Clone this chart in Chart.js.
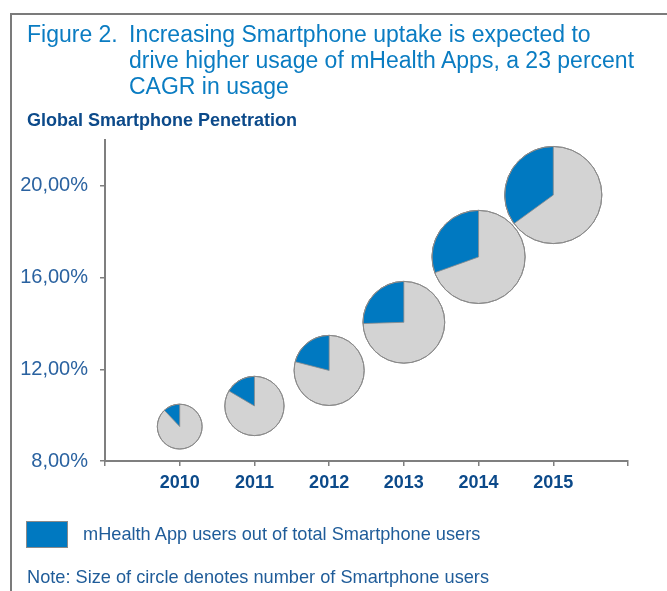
<!DOCTYPE html>
<html>
<head>
<meta charset="utf-8">
<script src="https://cdn.jsdelivr.net/npm/chart.js@4"></script>
<style>
  html, body { margin: 0; padding: 0; background: #fff; }
  body { width: 667px; height: 591px; position: relative; overflow: hidden;
         font-family: "Liberation Sans", Arial, sans-serif; }
  #frame { position: absolute; left: 10px; top: 13px; right: -10px; bottom: -10px;
           border-left: 2.5px solid #7b7b7b; border-top: 2.5px solid #7b7b7b; }
  #title { position: absolute; left: 27px; top: 21px; color: #0a7cc2; font-size: 23px;
           line-height: 26px; display: flex; }
  #title .fig { width: 102px; flex: none; }
  #subtitle { position: absolute; left: 27px; top: 109px; color: #0c4a8a; font-size: 18px;
              font-weight: bold; line-height: 22px; }
  #chartBox { position: absolute; left: 0; top: 0; width: 667px; height: 591px; }
  #legend { position: absolute; left: 26px; top: 521px; display: flex; align-items: center; }
  #legend .box { width: 40px; height: 25px; background: #0079c1; border: 1px solid #8a8a8a; }
  #legend .txt { margin-left: 15px; color: #1f5c99; font-size: 18.2px; }
  #note { position: absolute; left: 27px; top: 566px; color: #1f5c99; font-size: 18.2px; line-height: 22px; }
</style>
</head>
<body>
<div id="frame"></div>
<div id="chartBox"><canvas id="c" width="667" height="591"></canvas></div>
<div id="title"><div class="fig">Figure 2.</div><div>Increasing Smartphone uptake is expected to<br>drive higher usage of mHealth Apps, a 23 percent<br>CAGR in usage</div></div>
<div id="subtitle">Global Smartphone Penetration</div>
<div id="legend"><div class="box"></div><div class="txt">mHealth App users out of total Smartphone users</div></div>
<div id="note">Note: Size of circle denotes number of Smartphone users</div>
<script>
// ---- data ----
const years = [2010, 2011, 2012, 2013, 2014, 2015];
// Global smartphone penetration (%), bubble centre height
const penetration = [9.5, 10.4, 11.95, 14.05, 16.9, 19.6];
// Share of mHealth app users out of smartphone users (%), blue wedge
const mhealthShare = [12, 16.5, 21, 25.5, 30.5, 35];
// Relative number of smartphone users (2010 = 1), circle area
const smartphoneUsers = [1.0, 1.75, 2.45, 3.33, 4.32, 4.7];
// Axis tick labels
const yTicks = [8, 12, 16, 20];
const xTickLabels = ['2010', '2011', '2012', '2013', '2014', '2015'];

const BLUE = '#0079c1';
const GREY_FILL = '#d3d3d3';
const GREY_LINE = '#8a8a8a';
const AXIS = '#7f7f7f';
const RADIUS_SCALE = 22.4; // px radius for a relative user count of 1

const points = years.map((y, i) => ({ x: y, y: penetration[i], r: RADIUS_SCALE * Math.sqrt(smartphoneUsers[i]) }));

const wedgePlugin = {
  id: 'wedges',
  afterDatasetsDraw(chart) {
    const ctx = chart.ctx;
    const meta = chart.getDatasetMeta(0);
    meta.data.forEach((el, i) => {
      const p = el.getProps(['x', 'y'], true);
      const r = el.options.radius;
      const share = mhealthShare[i] / 100;
      const end = -Math.PI / 2;
      const start = end - share * 2 * Math.PI;
      ctx.save();
      ctx.beginPath();
      ctx.moveTo(p.x, p.y);
      ctx.arc(p.x, p.y, r, start, end);
      ctx.closePath();
      ctx.fillStyle = BLUE;
      ctx.fill();
      ctx.lineWidth = 0.8;
      ctx.strokeStyle = GREY_LINE;
      ctx.stroke();
      ctx.beginPath();
      ctx.arc(p.x, p.y, r, 0, 2 * Math.PI);
      ctx.lineWidth = 1;
      ctx.stroke();
      ctx.restore();
    });
  }
};

new Chart(document.getElementById('c'), {
  type: 'bubble',
  data: {
    datasets: [{
      label: 'Smartphone users',
      data: points,
      backgroundColor: GREY_FILL,
      borderColor: GREY_LINE,
      borderWidth: 1,
      hoverRadius: 0,
      clip: false
    }]
  },
  options: {
    responsive: false,
    animation: false,
    events: [],
    layout: { autoPadding: false, padding: { left: 0, right: 39, top: 140, bottom: 90 } },
    plugins: { legend: { display: false }, tooltip: { enabled: false }, title: { display: false } },
    scales: {
      x: {
        type: 'linear',
        min: years[0] - 1,
        max: years[years.length - 1] + 1,
        afterBuildTicks: (axis) => {
          const t = [];
          for (let v = axis.min; v <= axis.max; v++) t.push({ value: v });
          axis.ticks = t;
        },
        afterFit: (s) => { s.height = 40; s.paddingLeft = 0; s.paddingRight = 0; },
        border: { display: true, color: AXIS, width: 2 },
        grid: { drawOnChartArea: false, drawTicks: true, tickLength: 5, color: AXIS, lineWidth: 1.5 },
        ticks: {
          padding: 6,
          maxRotation: 0,
          autoSkip: false,
          color: '#0c4a8a',
          font: { family: '"Liberation Sans", Arial, sans-serif', size: 18, weight: 'bold' },
          callback: (v) => xTickLabels.includes(String(v)) ? String(v) : ''
        }
      },
      y: {
        type: 'linear',
        min: 8,
        max: 22,
        afterBuildTicks: (axis) => { axis.ticks = yTicks.map(v => ({ value: v })); },
        afterFit: (s) => { s.width = 105; s.paddingTop = 0; s.paddingBottom = 0; },
        border: { display: true, color: AXIS, width: 2 },
        grid: { drawOnChartArea: false, drawTicks: true, tickLength: 5, color: AXIS, lineWidth: 1.5 },
        ticks: {
          padding: 12,
          color: '#2a62a0',
          font: { family: '"Liberation Sans", Arial, sans-serif', size: 20 },
          callback: (v) => v.toFixed(2).replace('.', ',') + '%'
        }
      }
    }
  },
  plugins: [wedgePlugin]
});
</script>
</body>
</html>
